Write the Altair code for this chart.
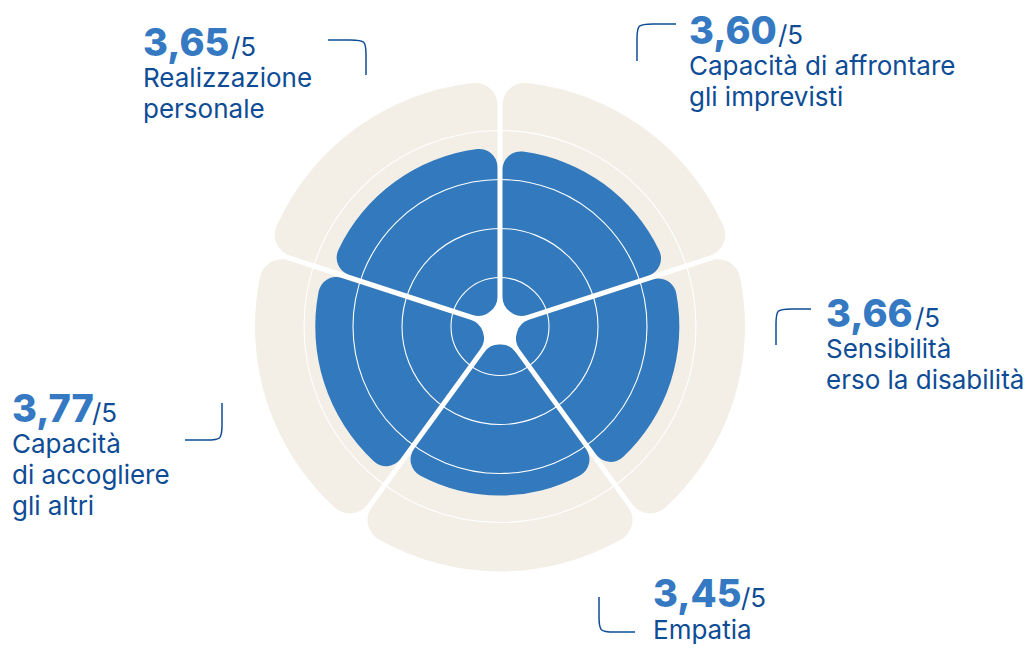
import math
import altair as alt
import pandas as pd

# ---------------- data ----------------
categories = [
    "Capacità di affrontare gli imprevisti",
    "Sensibilità verso la disabilità",
    "Empatia",
    "Capacità di accogliere gli altri",
    "Realizzazione personale",
]
scores = [3.60, 3.66, 3.45, 3.77, 3.65]
score_text = ["3,60", "3,66", "3,45", "3,77", "3,65"]
label_lines = [
    ["Capacità di affrontare", "gli imprevisti"],
    ["Sensibilità", "erso la disabilità"],
    ["Empatia"],
    ["Capacità", "di accogliere", "gli altri"],
    ["Realizzazione", "personale"],
]
scale_max = 5
ring_levels = [1, 2, 3, 4]

# ---------------- layout (page pixels) ----------------
OFF = 8
W, H = 1034 - 2 * OFF, 653 - 2 * OFF
CX, CY = 500 - OFF, 326.5 - OFF
R_MAX = 245
INNER = 18

# anchor (left x, number baseline y, "/5" x, line gap) per category
anchors = [
    (689, 44, 778, 31),
    (826, 327, 915, 31),
    (653, 607, 741, 32),
    (12, 422, 92, 31),
    (143, 56, 231, 31),
]

connectors = [
    [(676, 24), (651, 24), (637, 24), (637, 38), (637, 61)],
    [(811, 309), (790, 309), (776, 309), (776, 323), (776, 345)],
    [(599, 597), (599, 618), (599, 632), (613, 632), (635, 632)],
    [(222, 403), (222, 426), (222, 440), (208, 440), (185, 440)],
    [(328, 40), (352, 40), (366, 40), (366, 54), (366, 75)],
]

BLUE = "#327ABD"
BEIGE = "#F3EFE7"
NUM_C = "#3479C2"
TXT_C = "#0E4C96"

df = pd.DataFrame({
    "idx": list(range(len(categories))),
    "category": categories,
    "score": scores,
    "slot": [1] * len(categories),
    "full": [scale_max] * len(categories),
})

rscale = alt.Scale(type="linear", domain=[0, scale_max], range=[0, R_MAX], zero=True)
tscale = alt.Scale(domain=[0, len(categories)], range=[0, 2 * math.pi])

base = alt.Chart(df).transform_window(
    t1="sum(slot)", sort=[alt.SortField("idx", order="ascending")], frame=[None, 0]
).transform_calculate(
    t0="datum.t1 - datum.slot"
).encode(
    theta=alt.Theta("t0:Q", scale=tscale),
    theta2="t1:Q",
    x=alt.value(CX),
    y=alt.value(CY),
)

beige = base.mark_arc(
    padAngle=5 / R_MAX, cornerRadius=22, innerRadius=INNER, color=BEIGE
).encode(radius=alt.Radius("full:Q", scale=rscale, stack=None))

blue = base.mark_arc(
    padAngle=5 / 176, cornerRadius=18, innerRadius=INNER, color=BLUE
).encode(radius=alt.Radius("score:Q", scale=rscale, stack=None))

rings = alt.Chart(pd.DataFrame({"level": ring_levels})).mark_arc(
    filled=False, stroke="white", strokeWidth=1.1, theta=0, theta2=2 * math.pi
).encode(
    radius=alt.Radius("level:Q", scale=rscale, stack=None),
    x=alt.value(CX),
    y=alt.value(CY),
)

# connectors
crow = []
for i, pts in enumerate(connectors):
    for j, (px, py) in enumerate(pts):
        crow.append({"cid": i, "k": j, "px": px - OFF, "py": py - OFF})
conn = alt.Chart(pd.DataFrame(crow)).mark_line(
    interpolate="basis", color=TXT_C, strokeWidth=1.5
).encode(
    x=alt.X("px:Q", scale=None, axis=None),
    y=alt.Y("py:Q", scale=None, axis=None),
    detail="cid:N",
    order="k:Q",
)

# texts
num_rows, slash_rows, lab_rows = [], [], []
for i in range(len(categories)):
    lx, by, sx, gap = anchors[i]
    num_rows.append({"t": score_text[i], "px": lx - OFF, "py": by - OFF})
    slash_rows.append({"t": "/" + str(scale_max), "px": sx - OFF, "py": by - OFF})
    for k, line in enumerate(label_lines[i]):
        lab_rows.append({"t": line, "px": lx - OFF, "py": by + gap * (k + 1) - OFF})

def text_layer(rows, **kw):
    return alt.Chart(pd.DataFrame(rows)).mark_text(
        align="left", baseline="alphabetic", **kw
    ).encode(
        x=alt.X("px:Q", scale=None, axis=None),
        y=alt.Y("py:Q", scale=None, axis=None),
        text="t:N",
    )

nums = text_layer(num_rows, font="Inter", fontSize=38, fontWeight=800, color=NUM_C)
slashes = text_layer(slash_rows, font="Inter", fontSize=26, fontWeight=400, color=TXT_C)
labels = text_layer(lab_rows, font="Inter", fontSize=26, fontWeight=400, color=TXT_C)

chart = alt.layer(beige, blue, rings, conn, nums, slashes, labels).properties(
    width=W, height=H,
    padding=0,
    autosize=alt.AutoSizeParams(type="none"),
).configure_view(stroke=None)

chart.save("out.html", embed_options={"renderer": "svg", "actions": False})
